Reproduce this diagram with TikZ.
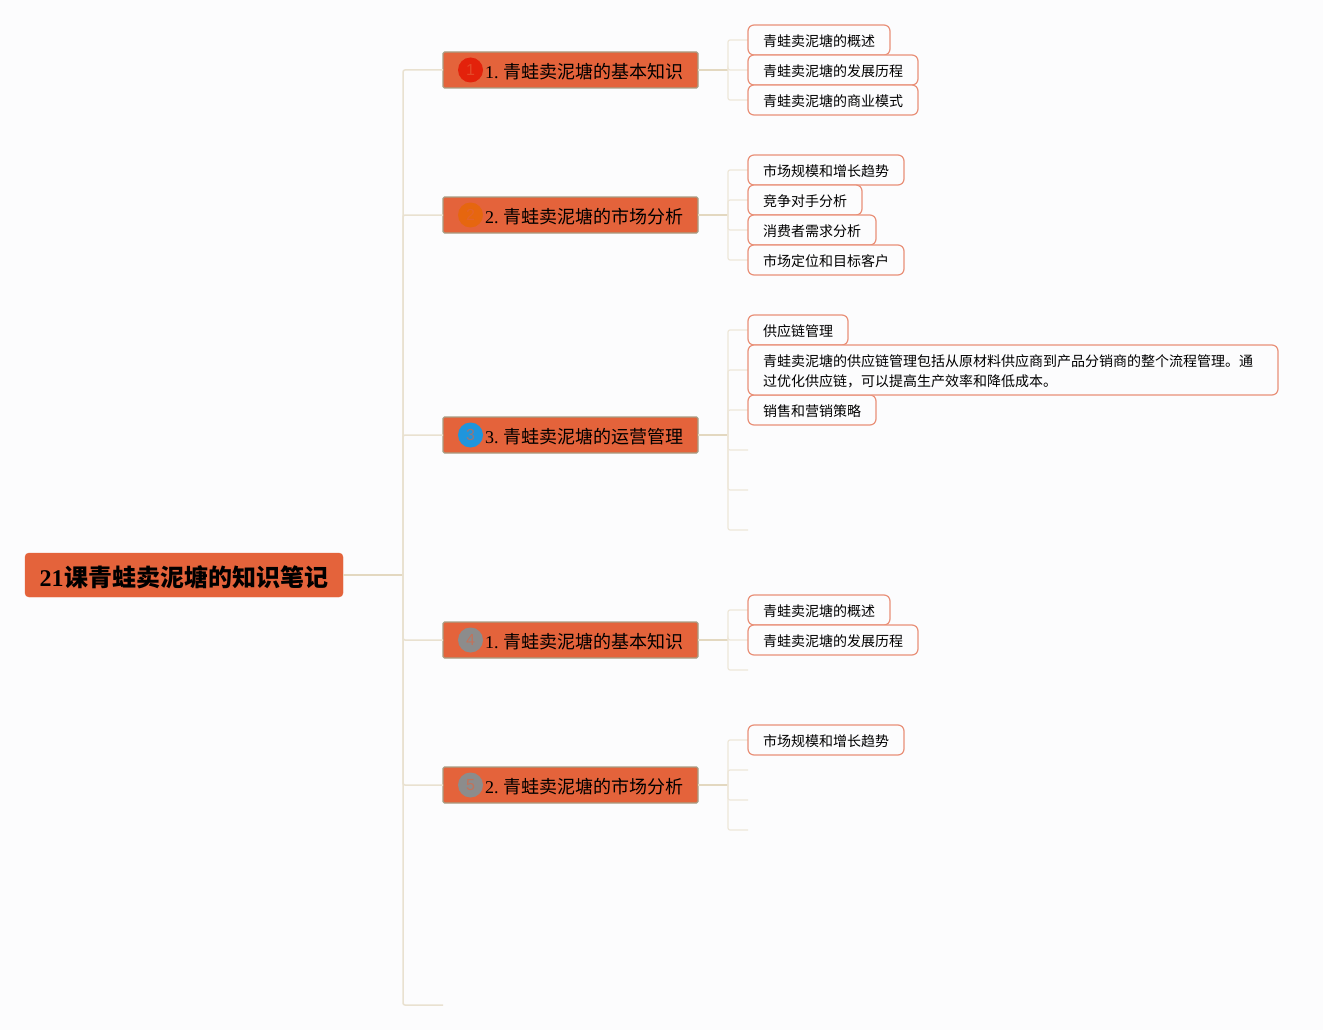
\documentclass[tikz,border=0pt]{standalone}
\usepackage{fontspec}
\setmainfont{Liberation Serif}
\setsansfont{Liberation Sans}
\newfontfamily\cjk{Noto Sans CJK SC}
\definecolor{pagebg}{HTML}{FCFCFD}
\definecolor{boxfill}{HTML}{E4633B}
\definecolor{boxedge}{HTML}{A89E84}
\definecolor{leafedge}{HTML}{E99078}
\definecolor{linedark}{HTML}{E3D8C0}
\definecolor{linetrunk}{HTML}{E9E1D0}
\definecolor{linelight}{HTML}{EEE7D9}
\definecolor{mkred}{HTML}{E3220B}
\definecolor{mkorange}{HTML}{E6660F}
\definecolor{mkblue}{HTML}{1F95DC}
\definecolor{mkgray}{HTML}{8C8C8C}
\tikzset{
    rootbox/.style={draw=boxfill, fill=boxfill, rounded corners=4pt, minimum width=318pt, minimum height=44pt, outer sep=0pt, inner sep=0pt, text height=23.2pt, text depth=0pt, font=\fontsize{24}{28}\selectfont\bfseries},
    branchbox/.style={draw=boxedge, line width=1.2pt, fill=boxfill, rounded corners=1.5pt, anchor=west, minimum width=255pt, minimum height=36pt, text width=225pt, align=right, outer sep=0pt, inner sep=0pt, text height=16.6pt, text depth=0pt, font=\fontsize{18}{22}\selectfont},
    marker/.style={circle, minimum size=25pt, inner sep=0pt, text=boxfill, text opacity=0.6, font=\sffamily\fontsize{16}{18}\selectfont},
    leafbox/.style={draw=leafedge, line width=1.2pt, fill=pagebg, rounded corners=6pt, anchor=west, minimum height=30pt, inner xsep=15pt, inner ysep=0pt, outer sep=0pt, align=left, text height=13.6pt, text depth=0pt, font=\fontsize{14}{20}\selectfont\cjk},
    trunkline/.style={draw=linetrunk, line width=1.5pt, rounded corners=2pt},
    mainline/.style={draw=linedark, line width=1.5pt},
    leafline/.style={draw=linelight, line width=1.2pt, rounded corners=2pt},
}
\begin{document}
\begin{tikzpicture}[x=1pt,y=-1pt]
    \useasboundingbox (0,0) rectangle (1323,1030);
    \fill[pagebg] (0,0) rectangle (1323,1030);

    %junctions on the trunk and after each branch
    \coordinate (trunk) at (403,575);
    \coordinate (tail) at (443,1005);
    \coordinate (jA) at (728,70);
    \coordinate (jB) at (728,215);
    \coordinate (jC) at (728,435);
    \coordinate (jD) at (728,640);
    \coordinate (jE) at (728,785);

    %loose ends, no box on them
    \foreach \nm/\y in {c4/450, c5/490, c6/530, d3/670, e2/770, e3/800, e4/830}
    {
        \coordinate (\nm) at (748,\y);
    }

    %root
    \node[rootbox] (root) at (184,575) {21\hspace{1pt}{\cjk 课青蛙卖泥塘的知识笔记}};
    \draw[mainline] (root.east) -- (trunk);

    %branches
    \foreach \nm/\y/\num/\txt in {
        A/70/1/青蛙卖泥塘的基本知识,
        B/215/2/青蛙卖泥塘的市场分析,
        C/435/3/青蛙卖泥塘的运营管理,
        D/640/1/青蛙卖泥塘的基本知识,
        E/785/2/青蛙卖泥塘的市场分析}
    {
        \node[branchbox] (\nm) at (443,\y) {\num.\hspace{4.5pt}{\cjk \txt}};
        \draw[trunkline] (trunk) |- (\nm.west);
        \draw[mainline] (\nm.east) -- (j\nm);
    }
    \draw[trunkline] (trunk) |- (tail);

    %round markers
    \node[marker, fill=mkred] (mA) at (470.5,70) {1};
    \node[marker, fill=mkorange] (mB) at (470.5,215) {2};
    \node[marker, fill=mkblue] (mC) at (470.5,435) {3};
    \node[marker, fill=mkgray] (mD) at (470.5,640) {4};
    \node[marker, fill=mkgray] (mE) at (470.5,785) {5};

    %stubs first, then the boxes over them
    \foreach \nm/\y/\jn in {
        a1/40/jA, a2/70/jA, a3/100/jA,
        b1/170/jB, b2/200/jB, b3/230/jB, b4/260/jB,
        c1/330/jC, c2/370/jC, c3/410/jC,
        d1/610/jD, d2/640/jD,
        e1/740/jE}
    {
        \coordinate (s\nm) at (748,\y);
        \draw[leafline] (\jn) |- (s\nm);
    }
    \foreach \nm/\jn in {c4/jC, c5/jC, c6/jC, d3/jD, e2/jE, e3/jE, e4/jE}
    {
        \draw[leafline] (\jn) |- (\nm);
    }

    %leaves
    \foreach \nm/\y/\txt in {
        a1/40/青蛙卖泥塘的概述,
        a2/70/青蛙卖泥塘的发展历程,
        a3/100/青蛙卖泥塘的商业模式,
        b1/170/市场规模和增长趋势,
        b2/200/竞争对手分析,
        b3/230/消费者需求分析,
        b4/260/市场定位和目标客户,
        c1/330/供应链管理,
        c3/410/销售和营销策略,
        d1/610/青蛙卖泥塘的概述,
        d2/640/青蛙卖泥塘的发展历程,
        e1/740/市场规模和增长趋势}
    {
        \node[leafbox] (\nm) at (748,\y) {\txt};
    }
    \node[leafbox, text width=500pt, minimum height=50pt, text height=0pt, text depth=7.4pt] (c2) at (748,370)
        {青蛙卖泥塘的供应链管理包括从原材料供应商到产品分销商的整个流程管理。通\\过优化供应链，可以提高生产效率和降低成本。};
\end{tikzpicture}
\end{document}
